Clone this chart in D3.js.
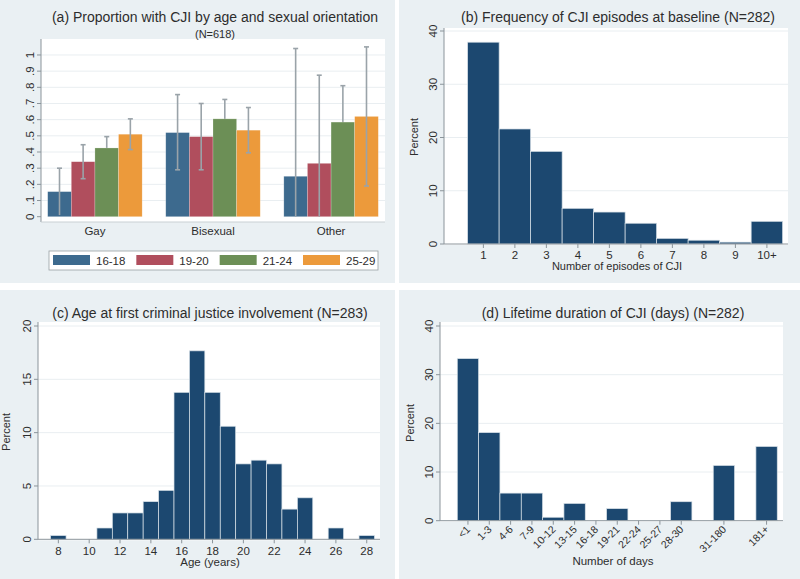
<!DOCTYPE html>
<html>
<head>
<meta charset="utf-8">
<script src="https://cdn.jsdelivr.net/npm/d3@7"></script>
<style>
  body { margin: 0; background: #fff; }
  text { font-family: "Liberation Sans", Arial, sans-serif; fill: #2d2d2d; }
</style>
</head>
<body>
<div id="chart"></div>
<script>
// ---- panel (a) data ----
const orientations = ["Gay", "Bisexual", "Other"];
const ageGroups = ["16-18", "19-20", "21-24", "25-29"];
const ageColors = ["#3d6a8e", "#b04e5d", "#6c8f56", "#ec9a3b"];
// proportion with CJI, one array per age group (Gay, Bisexual, Other)
const prop1618 = [0.155, 0.52, 0.25];
const prop1920 = [0.34, 0.495, 0.33];
const prop2124 = [0.425, 0.605, 0.585];
const prop2529 = [0.51, 0.535, 0.62];
const lo1618 = [0.01, 0.29, -0.54];
const lo1920 = [0.235, 0.29, -0.215];
const lo2124 = [0.355, 0.48, 0.36];
const lo2529 = [0.415, 0.395, 0.19];
const hi1618 = [0.30, 0.755, 1.04];
const hi1920 = [0.445, 0.70, 0.875];
const hi2124 = [0.495, 0.725, 0.81];
const hi2529 = [0.605, 0.675, 1.05];
const propTicks = [0, .1, .2, .3, .4, .5, .6, .7, .8, .9, 1];

// ---- panel (b) data ----
const episodeBins = [1, 2, 3, 4, 5, 6, 7, 8, 9, 10];
const episodeLabels = ["1", "2", "3", "4", "5", "6", "7", "8", "9", "10+"];
const episodePct = [37.9, 21.6, 17.4, 6.7, 6.0, 3.9, 1.06, 0.71, 0.35, 4.26];

// ---- panel (c) data ----
const ageBins = [8, 9, 10, 11, 12, 13, 14, 15, 16, 17, 18, 19, 20, 21, 22, 23, 24, 25, 26, 27, 28];
const agePct = [0.35, 0, 0, 1.06, 2.47, 2.47, 3.53, 4.59, 13.78, 17.67, 13.78, 10.6, 7.07, 7.42, 7.07, 2.83, 3.89, 0, 1.06, 0, 0.35];
const ageTicks = [8, 10, 12, 14, 16, 18, 20, 22, 24, 26, 28];

// ---- panel (d) data ----
const dayLabels = ["<1", "1-3", "4-6", "7-9", "10-12", "13-15", "16-18", "19-21", "22-24", "25-27", "28-30", "", "31-180", "", "181+"];
const dayPct = [33.3, 18.1, 5.67, 5.67, 0.71, 3.55, 0, 2.48, 0, 0, 3.9, 0, 11.35, 0, 15.25];

const navy = "#1c4870";
const panelBg = "#eaf0f3";
const gridCol = "#e9eef1";
const axisCol = "#8b949a";

const svg = d3.select("#chart").append("svg")
  .attr("width", 800).attr("height", 579);

svg.append("rect").attr("width", 800).attr("height", 579).attr("fill", "#fff");

// panel backgrounds
[[0, 0, 395, 283], [399, 0, 401, 283], [0, 290, 395, 289], [399, 290, 401, 289]].forEach(p => {
  svg.append("rect").attr("x", p[0]).attr("y", p[1]).attr("width", p[2]).attr("height", p[3])
    .attr("fill", panelBg);
});

function title(x, y, txt, size) {
  svg.append("text").attr("x", x).attr("y", y).attr("text-anchor", "middle")
    .style("font-size", size + "px").text(txt);
}

// y axis with rotated labels and grid
function yAxis(y, x0, x1, ticks, fmt) {
  const g = svg.append("g");
  g.selectAll("line.grid").data(ticks.filter(t => t !== 0)).join("line")
    .attr("x1", x0).attr("x2", x1).attr("y1", d => y(d)).attr("y2", d => y(d))
    .attr("stroke", gridCol).attr("stroke-width", 1);
  g.selectAll("line.tick").data(ticks).join("line")
    .attr("x1", x0 - 4).attr("x2", x0).attr("y1", d => y(d)).attr("y2", d => y(d))
    .attr("stroke", axisCol);
  g.selectAll("text").data(ticks).join("text")
    .attr("transform", d => `translate(${x0 - 7},${y(d)}) rotate(-90)`)
    .attr("text-anchor", "middle")
    .style("font-size", "11.5px")
    .text(fmt);
  return g;
}

function plotRegion(x0, y0, x1, y1) {
  svg.append("rect").attr("x", x0).attr("y", y0).attr("width", x1 - x0).attr("height", y1 - y0)
    .attr("fill", "#fff");
}

// ================= panel (a) =================
(function () {
  const x0 = 41, x1 = 385, top = 39, bottom = 222;
  plotRegion(x0, top, x1, bottom);
  const y = d3.scaleLinear().domain([0, 1.1]).range([216.7, 38.8]);
  yAxis(y, x0, x1, propTicks, d => d === 0 ? "0" : d === 1 ? "1" : d3.format(".1f")(d).replace(/^0/, ""));
  svg.append("line").attr("x1", x0).attr("x2", x0).attr("y1", top).attr("y2", bottom).attr("stroke", axisCol);
  svg.append("line").attr("x1", x0).attr("x2", x1).attr("y1", bottom).attr("y2", bottom).attr("stroke", "#c9d0d4");

  const xg = d3.scaleBand().domain(orientations).range([47.7, 378.3]).paddingInner(0.2);
  const xs = d3.scaleBand().domain(ageGroups).range([0, xg.bandwidth()]);

  const vals = [prop1618, prop1920, prop2124, prop2529];
  const los = [lo1618, lo1920, lo2124, lo2529];
  const his = [hi1618, hi1920, hi2124, hi2529];
  const errBehind = [false, false, true, false];

  const rows = [];
  ageGroups.forEach((a, i) => orientations.forEach((o, j) => {
    rows.push({ age: a, i, o, v: vals[i][j], lo: los[i][j], hi: his[i][j] });
  }));

  function drawErr(data) {
    const g = svg.append("g").attr("stroke", "#9aa3a9").attr("stroke-width", 1.6);
    data.forEach(d => {
      const cx = xg(d.o) + xs(d.age) + xs.bandwidth() / 2;
      const lo = Math.max(d.lo, 0);
      g.append("line").attr("x1", cx).attr("x2", cx).attr("y1", y(d.hi)).attr("y2", y(lo));
      g.append("line").attr("x1", cx - 2.5).attr("x2", cx + 2.5).attr("y1", y(d.hi)).attr("y2", y(d.hi));
      if (d.lo > 0.02)
        g.append("line").attr("x1", cx - 2.5).attr("x2", cx + 2.5).attr("y1", y(d.lo)).attr("y2", y(d.lo));
    });
  }

  drawErr(rows.filter(d => errBehind[d.i]));
  svg.append("g").selectAll("rect").data(rows).join("rect")
    .attr("x", d => xg(d.o) + xs(d.age))
    .attr("y", d => y(d.v))
    .attr("width", xs.bandwidth())
    .attr("height", d => y(0) - y(d.v))
    .attr("fill", d => ageColors[d.i])
    .attr("stroke", "#ffffff").attr("stroke-opacity", 0.35).attr("stroke-width", 0.6);
  drawErr(rows.filter(d => !errBehind[d.i]));

  svg.selectAll("text.cat").data(orientations).join("text")
    .attr("x", d => xg(d) + xg.bandwidth() / 2).attr("y", 235)
    .attr("text-anchor", "middle").style("font-size", "11.5px").text(d => d);

  // legend
  const lg = svg.append("g");
  lg.append("rect").attr("x", 49).attr("y", 251).attr("width", 329).attr("height", 19)
    .attr("fill", "#fff").attr("stroke", "#9aa0a4").attr("stroke-width", 0.8);
  const lx = d3.scalePoint().domain(ageGroups).range([53, 303]);
  ageGroups.forEach((a, i) => {
    lg.append("rect").attr("x", lx(a)).attr("y", 255).attr("width", 37).attr("height", 10)
      .attr("fill", ageColors[i]);
    lg.append("text").attr("x", lx(a) + 43).attr("y", 264.5).style("font-size", "11.5px").text(a);
  });

  title(215, 22, "(a) Proportion with CJI by age and sexual orientation", 14);
  title(215, 37.5, "(N=618)", 11);
})();

// histogram helper
function histogram(opts) {
  const { x0, x1, top, y, x, bins, pct, yticks } = opts;
  plotRegion(x0, top, x1, y(0) + 1);
  yAxis(y, x0, x1, yticks, d => d);
  svg.append("line").attr("x1", x0).attr("x2", x0).attr("y1", top).attr("y2", y(0)).attr("stroke", axisCol);
  svg.append("g").selectAll("rect").data(bins.map((b, i) => ({ b, v: pct[i] })).filter(d => d.v > 0)).join("rect")
    .attr("x", d => x(d.b - 0.5))
    .attr("y", d => y(d.v))
    .attr("width", d => x(d.b + 0.5) - x(d.b - 0.5))
    .attr("height", d => y(0) - y(d.v))
    .attr("fill", navy)
    .attr("stroke", "#d9e2e8").attr("stroke-width", 0.7);
  svg.append("line").attr("x1", x0).attr("x2", x1).attr("y1", y(0)).attr("y2", y(0)).attr("stroke", axisCol);
}

// ================= panel (b) =================
(function () {
  const x = d3.scaleLinear().domain([-0.25, 10.67]).range([444, 788]);
  const y = d3.scaleLinear().domain([0, 40]).range([244, 31]);
  histogram({ x0: 444, x1: 788, top: 28, x, y, bins: episodeBins, pct: episodePct, yticks: [0, 10, 20, 30, 40] });
  episodeBins.forEach((b, i) => {
    svg.append("line").attr("x1", x(b)).attr("x2", x(b)).attr("y1", 244).attr("y2", 248).attr("stroke", axisCol);
    svg.append("text").attr("x", x(b)).attr("y", 259).attr("text-anchor", "middle")
      .style("font-size", "11.5px").text(episodeLabels[i]);
  });
  svg.append("text").attr("x", 617).attr("y", 270).attr("text-anchor", "middle")
    .style("font-size", "11px").text("Number of episodes of CJI");
  svg.append("text").attr("transform", "translate(418,137) rotate(-90)").attr("text-anchor", "middle")
    .style("font-size", "11px").text("Percent");
  title(618, 22, "(b) Frequency of CJI episodes at baseline (N=282)", 14);
})();

// ================= panel (c) =================
(function () {
  const x = d3.scaleLinear().domain([6.68, 28.86]).range([38, 380]);
  const y = d3.scaleLinear().domain([0, 20]).range([539.3, 326]);
  histogram({ x0: 38, x1: 380, top: 322, x, y, bins: ageBins, pct: agePct, yticks: [0, 5, 10, 15, 20] });
  ageTicks.forEach(t => {
    svg.append("line").attr("x1", x(t)).attr("x2", x(t)).attr("y1", 539.3).attr("y2", 543.3).attr("stroke", axisCol);
    svg.append("text").attr("x", x(t)).attr("y", 554.5).attr("text-anchor", "middle")
      .style("font-size", "11.5px").text(t);
  });
  svg.append("text").attr("x", 210).attr("y", 565.5).attr("text-anchor", "middle")
    .style("font-size", "11.5px").text("Age (years)");
  svg.append("text").attr("transform", "translate(10,432) rotate(-90)").attr("text-anchor", "middle")
    .style("font-size", "11px").text("Percent");
  title(210, 318, "(c) Age at first criminal justice involvement (N=283)", 14);
})();

// ================= panel (d) =================
(function () {
  const idx = dayLabels.map((d, i) => i + 1);
  const x = d3.scaleLinear().domain([-0.31, 15.77]).range([440, 783]);
  const y = d3.scaleLinear().domain([0, 40]).range([520.7, 326]);
  histogram({ x0: 440, x1: 783, top: 322, x, y, bins: idx, pct: dayPct, yticks: [0, 10, 20, 30, 40] });
  idx.forEach((b, i) => {
    if (!dayLabels[i]) return;
    svg.append("line").attr("x1", x(b)).attr("x2", x(b)).attr("y1", 520.7).attr("y2", 524.7).attr("stroke", axisCol);
    svg.append("text").attr("transform", `translate(${x(b) + 3},${530}) rotate(-45)`)
      .attr("text-anchor", "end").style("font-size", "10.5px").text(dayLabels[i]);
  });
  svg.append("text").attr("x", 613).attr("y", 565).attr("text-anchor", "middle")
    .style("font-size", "11.5px").text("Number of days");
  svg.append("text").attr("transform", "translate(414,423) rotate(-90)").attr("text-anchor", "middle")
    .style("font-size", "11px").text("Percent");
  title(613, 318, "(d) Lifetime duration of CJI (days) (N=282)", 14);
})();
</script>
</body>
</html>
